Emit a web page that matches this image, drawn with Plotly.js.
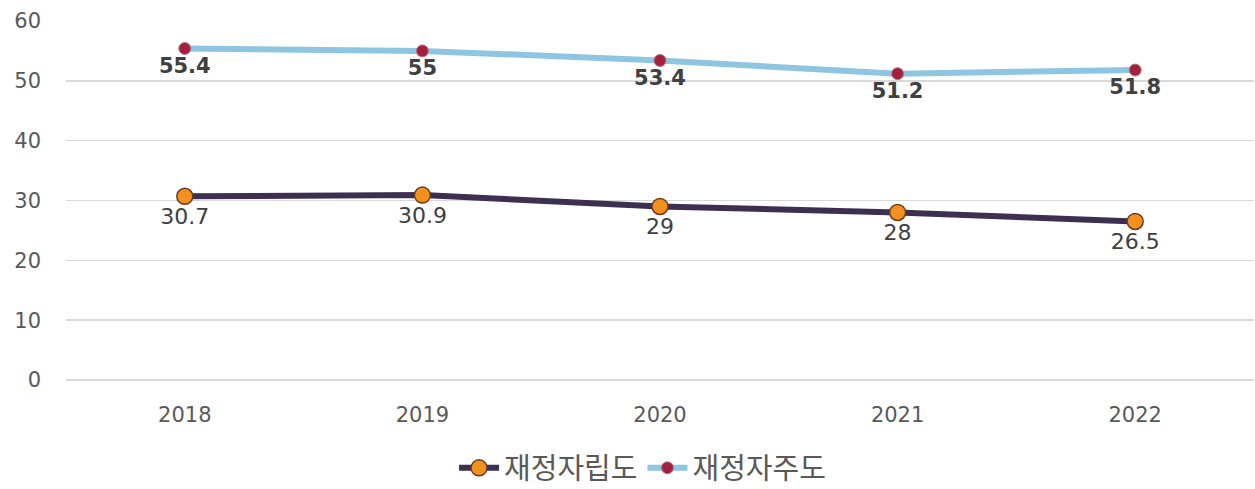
<!DOCTYPE html>
<html>
<head>
<meta charset="utf-8">
<script src="https://cdn.plot.ly/plotly-3.0.1.min.js"></script>
<style>html,body{margin:0;padding:0;background:#fff;}#chart{width:1255px;height:489px;}</style>
</head>
<body>
<div id="chart"></div>
<script>
const years = ['2018', '2019', '2020', '2021', '2022'];
const seriesNames = ['재정자립도', '재정자주도'];
const selfReliance = [30.7, 30.9, 29, 28, 26.5];
const selfAutonomy = [55.4, 55, 53.4, 51.2, 51.8];
const yTicks = [0, 10, 20, 30, 40, 50, 60];

const cjk = "'Noto Sans CJK KR', 'Noto Sans', sans-serif";
const num = "'DejaVu Sans', 'Noto Sans', sans-serif";

const traces = [
  {
    x: years, y: selfReliance, name: seriesNames[0], type: 'scatter', mode: 'lines+markers+text',
    line: {color: '#3d2f52', width: 6},
    marker: {color: '#f4901e', size: 16, line: {color: '#6b3d22', width: 1.5}},
    text: selfReliance.map(String), textposition: 'bottom center',
    textfont: {family: num, size: 22, color: '#404040'},
    cliponaxis: false
  },
  {
    x: years, y: selfAutonomy, name: seriesNames[1], type: 'scatter', mode: 'lines+markers+text',
    line: {color: '#8ec6e2', width: 6},
    marker: {color: '#a3213d', size: 12, line: {color: '#b47a86', width: 1}},
    text: selfAutonomy.map(String), textposition: 'bottom center',
    textfont: {family: num, size: 21, color: '#404040', weight: 'bold'},
    cliponaxis: false
  }
];

const layout = {
  width: 1255, height: 489,
  margin: {l: 66, r: 1, t: 21, b: 109},
  paper_bgcolor: '#fff', plot_bgcolor: '#fff',
  font: {family: cjk, color: '#595959'},
  showlegend: true,
  legend: {
    orientation: 'h', x: 0.512, xanchor: 'center', xref: 'container',
    y: 0.043, yanchor: 'middle', yref: 'container',
    font: {family: cjk, size: 29, color: '#595959'},
    itemwidth: 40, tracegroupgap: 0
  },
  xaxis: {
    type: 'category', range: [-0.5, 4.5], showgrid: false, zeroline: false,
    showline: false, ticks: '', ticklabelstandoff: 20,
    tickfont: {family: num, size: 21, color: '#595959'}
  },
  yaxis: {
    range: [0, 60], tickvals: yTicks, ticktext: yTicks.map(String),
    showgrid: true, gridcolor: '#d9d9d9', gridwidth: 1.5,
    zeroline: true, zerolinecolor: '#d9d9d9', zerolinewidth: 1.5,
    showline: false, ticks: '', ticklabelstandoff: 24,
    tickfont: {family: num, size: 21, color: '#595959'}
  }
};

Plotly.newPlot('chart', traces, layout, {displayModeBar: false, staticPlot: true});
</script>
</body>
</html>
